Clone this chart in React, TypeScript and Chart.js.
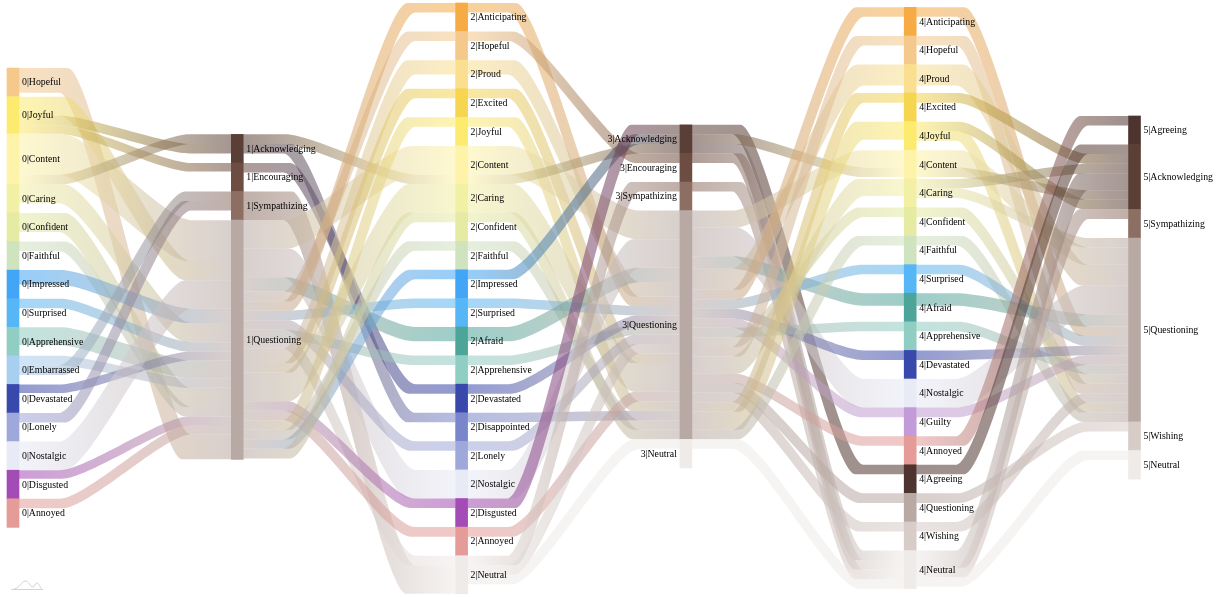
import React, { useEffect, useRef } from "react";
import { Chart, registerables } from "chart.js";

Chart.register(...registerables);

type Flow = [string, string, number];

// Node order in every step of the conversation
const column0 = ["Hopeful", "Joyful", "Content", "Caring", "Confident", "Faithful", "Impressed", "Surprised", "Apprehensive", "Embarrassed", "Devastated", "Lonely", "Nostalgic", "Disgusted", "Annoyed"];
const column1 = ["Acknowledging", "Encouraging", "Sympathizing", "Questioning"];
const column2 = ["Anticipating", "Hopeful", "Proud", "Excited", "Joyful", "Content", "Caring", "Confident", "Faithful", "Impressed", "Surprised", "Afraid", "Apprehensive", "Devastated", "Disappointed", "Lonely", "Nostalgic", "Disgusted", "Annoyed", "Neutral"];
const column3 = ["Acknowledging", "Encouraging", "Sympathizing", "Questioning", "Neutral"];
const column4 = ["Anticipating", "Hopeful", "Proud", "Excited", "Joyful", "Content", "Caring", "Confident", "Faithful", "Surprised", "Afraid", "Apprehensive", "Devastated", "Nostalgic", "Guilty", "Annoyed", "Agreeing", "Questioning", "Wishing", "Neutral"];
const column5 = ["Agreeing", "Acknowledging", "Sympathizing", "Questioning", "Wishing", "Neutral"];

// Flows, listed in the order they leave their source
const flows01: Flow[] = [
  ["Hopeful", "Questioning", 2.6], ["Joyful", "Questioning", 2], ["Joyful", "Acknowledging", 1], ["Joyful", "Encouraging", 0.9],
  ["Content", "Questioning", 4.3], ["Content", "Acknowledging", 1], ["Caring", "Questioning", 2], ["Confident", "Questioning", 2],
  ["Faithful", "Questioning", 1], ["Impressed", "Questioning", 1.5], ["Surprised", "Questioning", 1], ["Apprehensive", "Questioning", 1.9],
  ["Embarrassed", "Questioning", 1], ["Embarrassed", "Sympathizing", 1], ["Devastated", "Questioning", 0.9], ["Lonely", "Sympathizing", 1],
  ["Nostalgic", "Questioning", 3], ["Disgusted", "Questioning", 0.9], ["Annoyed", "Questioning", 1],
];
const flows12: Flow[] = [
  ["Acknowledging", "Content", 1], ["Acknowledging", "Disappointed", 1], ["Encouraging", "Devastated", 1], ["Sympathizing", "Neutral", 3],
  ["Questioning", "Content", 3], ["Questioning", "Nostalgic", 3], ["Questioning", "Afraid", 1.5], ["Questioning", "Hopeful", 1],
  ["Questioning", "Anticipating", 1], ["Questioning", "Surprised", 1], ["Questioning", "Lonely", 1], ["Questioning", "Apprehensive", 1],
  ["Questioning", "Neutral", 1], ["Questioning", "Proud", 1.5], ["Questioning", "Excited", 1], ["Questioning", "Caring", 3],
  ["Questioning", "Disgusted", 1], ["Questioning", "Annoyed", 1], ["Questioning", "Joyful", 1], ["Questioning", "Faithful", 1],
  ["Questioning", "Impressed", 1], ["Questioning", "Confident", 1],
];
const flows23: Flow[] = [
  ["Anticipating", "Questioning", 1], ["Hopeful", "Encouraging", 1], ["Proud", "Questioning", 1.5], ["Excited", "Questioning", 1],
  ["Joyful", "Questioning", 1], ["Content", "Questioning", 3], ["Content", "Acknowledging", 1], ["Caring", "Questioning", 3],
  ["Confident", "Questioning", 1], ["Faithful", "Questioning", 1], ["Impressed", "Acknowledging", 1], ["Surprised", "Questioning", 1],
  ["Afraid", "Questioning", 1.5], ["Apprehensive", "Questioning", 1], ["Devastated", "Questioning", 1], ["Disappointed", "Questioning", 1],
  ["Lonely", "Questioning", 1], ["Nostalgic", "Questioning", 3], ["Disgusted", "Acknowledging", 1], ["Annoyed", "Questioning", 1],
  ["Neutral", "Sympathizing", 1], ["Neutral", "Questioning", 1], ["Neutral", "Neutral", 1],
];
const flows34: Flow[] = [
  ["Acknowledging", "Agreeing", 1], ["Acknowledging", "Content", 1], ["Acknowledging", "Neutral", 1], ["Encouraging", "Neutral", 1], ["Sympathizing", "Neutral", 1],
  ["Questioning", "Content", 1.8], ["Questioning", "Nostalgic", 3], ["Questioning", "Afraid", 1.3], ["Questioning", "Proud", 2.2],
  ["Questioning", "Anticipating", 1], ["Questioning", "Surprised", 1], ["Questioning", "Devastated", 1], ["Questioning", "Guilty", 1],
  ["Questioning", "Apprehensive", 1], ["Questioning", "Confident", 1], ["Questioning", "Hopeful", 1], ["Questioning", "Caring", 1.8],
  ["Questioning", "Annoyed", 1], ["Questioning", "Questioning", 1], ["Questioning", "Wishing", 1], ["Questioning", "Excited", 1],
  ["Questioning", "Joyful", 1.9], ["Questioning", "Faithful", 1], ["Neutral", "Neutral", 1],
];
const flows45: Flow[] = [
  ["Anticipating", "Questioning", 1], ["Hopeful", "Questioning", 1], ["Proud", "Questioning", 2.2], ["Excited", "Acknowledging", 1],
  ["Joyful", "Acknowledging", 1], ["Joyful", "Questioning", 1], ["Content", "Questioning", 1.8], ["Content", "Acknowledging", 1],
  ["Caring", "Acknowledging", 1], ["Caring", "Questioning", 1], ["Confident", "Questioning", 1], ["Faithful", "Questioning", 1],
  ["Surprised", "Questioning", 1], ["Afraid", "Questioning", 1.3], ["Apprehensive", "Questioning", 1], ["Devastated", "Questioning", 1],
  ["Nostalgic", "Questioning", 3], ["Guilty", "Questioning", 1], ["Annoyed", "Agreeing", 1], ["Agreeing", "Acknowledging", 1],
  ["Questioning", "Wishing", 1], ["Wishing", "Questioning", 1], ["Neutral", "Acknowledging", 1.8], ["Neutral", "Sympathizing", 1], ["Neutral", "Neutral", 1],
];

// Order in which the flows arrive at a node, by source name
const arrive1 = ["Content", "Joyful", "Nostalgic", "Impressed", "Caring", "Surprised", "Devastated", "Apprehensive", "Embarrassed", "Lonely", "Confident", "Faithful", "Disgusted", "Annoyed", "Hopeful"];
const arrive2 = ["Questioning", "Acknowledging", "Encouraging", "Sympathizing"];
const arrive3 = ["Disgusted", "Impressed", "Content", "Nostalgic", "Afraid", "Proud", "Anticipating", "Surprised", "Devastated", "Apprehensive", "Lonely", "Neutral", "Excited", "Caring", "Annoyed", "Joyful", "Disappointed", "Faithful", "Confident"];
const arrive4 = ["Questioning", "Acknowledging", "Encouraging", "Sympathizing", "Neutral"];
const arrive5 = ["Annoyed", "Agreeing", "Excited", "Caring", "Neutral", "Content", "Proud", "Nostalgic", "Afraid", "Anticipating", "Surprised", "Devastated", "Guilty", "Apprehensive", "Confident", "Hopeful", "Wishing", "Questioning", "Joyful", "Faithful"];

const nodeColors: Record<string, string> = {
  Hopeful: "#F5C98B", Joyful: "#FDEB6F", Content: "#FEF3A8", Caring: "#F2F0A5", Confident: "#E5EBA2", Faithful: "#D0E3BF",
  Impressed: "#42A5F5", Surprised: "#57B6F5", Apprehensive: "#90CDC3", Embarrassed: "#A8CFF0", Devastated: "#3949AB", Lonely: "#9FA8DA",
  Nostalgic: "#E8EAF6", Disgusted: "#A44CB5", Annoyed: "#E59C98", Anticipating: "#F7AB44", Proud: "#FADF90", Excited: "#F6D651",
  Afraid: "#4DA59A", Disappointed: "#7986CB", Neutral: "#EFEBE9", Acknowledging: "#5A3F37", Encouraging: "#6D4C41", Sympathizing: "#8D6E63",
  Questioning: "#B9A9A4", Agreeing: "#4E342E", Wishing: "#D7CCC8", Guilty: "#C39BD8",
};

const columns = [column0, column1, column2, column3, column4, column5];
const flowSets = [flows01, flows12, flows23, flows34, flows45];
const arrivals = [arrive1, arrive2, arrive3, arrive4, arrive5];

// Layout settings (axis units, pixels)
const columnTops = [7.14, 14.1, 0.31, 13.1, 0.77, 12.17];
const MIN_NODE = 3;
const NODE_W = 12;
const FLAT = 0.19;
const BEND = 0.2;
const SPREAD = 1.25;
const LINK_ALPHA = 0.55;

const alpha = (hex: string, a: number) => {
  const n = parseInt(hex.slice(1), 16);
  return `rgba(${n >> 16},${(n >> 8) & 255},${n & 255},${a})`;
};

type NodeBox = { col: number; name: string; top: number; bottom: number };

function buildLayout() {
  const totalIn = (c: number, name: string) => (c > 0 ? flowSets[c - 1].filter((f) => f[1] === name).reduce((s, f) => s + f[2], 0) : 0);
  const totalOut = (c: number, name: string) => (c < flowSets.length ? flowSets[c].filter((f) => f[0] === name).reduce((s, f) => s + f[2], 0) : 0);
  const nodes: NodeBox[] = [];
  const index: Record<string, NodeBox> = {};
  columns.forEach((names, c) => {
    let y = columnTops[c];
    names.forEach((name) => {
      const h = Math.max(MIN_NODE, totalIn(c, name), totalOut(c, name));
      const box = { col: c, name, top: y, bottom: y + h };
      nodes.push(box);
      index[`${c}|${name}`] = box;
      y += h;
    });
  });
  const ribbons: { col: number; from: string; to: string; y0: number; y1: number; size: number }[] = [];
  flowSets.forEach((flows, c) => {
    const outUsed: Record<string, number> = {};
    const withOut = flows.map((f) => {
      const used = outUsed[f[0]] || 0;
      outUsed[f[0]] = used + f[2];
      return { f, y0: index[`${c}|${f[0]}`].top + used };
    });
    const order = arrivals[c];
    const sorted = [...withOut].sort((a, b) => order.indexOf(a.f[0]) - order.indexOf(b.f[0]));
    const inUsed: Record<string, number> = {};
    const y1s = new Map<Flow, number>();
    sorted.forEach(({ f }) => {
      const used = inUsed[f[1]] || 0;
      inUsed[f[1]] = used + f[2];
      y1s.set(f, index[`${c + 1}|${f[1]}`].top + used);
    });
    withOut.forEach(({ f, y0 }) => ribbons.push({ col: c, from: f[0], to: f[1], y0, y1: y1s.get(f) as number, size: f[2] }));
  });
  return { nodes, ribbons };
}

export default function App() {
  const ref = useRef<HTMLCanvasElement>(null);
  useEffect(() => {
    if (!ref.current) return;
    const { nodes, ribbons } = buildLayout();

    const ribbonPlugin = {
      id: "ribbons",
      beforeDatasetsDraw(chart: any) {
        const { ctx, scales } = chart;
        const unit = Math.abs(scales.y.getPixelForValue(1) - scales.y.getPixelForValue(0));
        ctx.save();
        ribbons.forEach((r) => {
          const x0 = scales.x.getPixelForValue(r.col) + NODE_W / 2;
          const x1 = scales.x.getPixelForValue(r.col + 1) - NODE_W / 2;
          const w = x1 - x0;
          const a = x0 + w * FLAT;
          const b = x1 - w * FLAT;
          const k = (b - a) * BEND;
          const py = (v: number) => scales.y.getPixelForValue(v);
          const t0 = py(r.y0), t1 = py(r.y1), b0 = py(r.y0 + r.size), b1 = py(r.y1 + r.size);
          // the outer edge of each bend runs wider than the inner edge
          const theta = Math.atan(Math.abs(t1 - t0) / (b - a));
          const d = unit * Math.tan(theta / 2) * SPREAD;
          const down = t1 >= t0;
          const topA = down ? a + d : a;
          const topB = down ? b : b - d;
          const botA = down ? a : a + d;
          const botB = down ? b - d : b;
          const g = ctx.createLinearGradient(x0, 0, x1, 0);
          g.addColorStop(0, alpha(nodeColors[r.from], LINK_ALPHA));
          g.addColorStop(1, alpha(nodeColors[r.to], LINK_ALPHA));
          ctx.fillStyle = g;
          ctx.beginPath();
          ctx.moveTo(x0, t0);
          ctx.lineTo(topA, t0);
          ctx.bezierCurveTo(topA + k, t0, topB - k, t1, topB, t1);
          ctx.lineTo(x1, t1);
          ctx.lineTo(x1, b1);
          ctx.lineTo(botB, b1);
          ctx.bezierCurveTo(botB - k, b1, botA + k, b0, botA, b0);
          ctx.lineTo(x0, b0);
          ctx.closePath();
          ctx.fill();
        });
        ctx.restore();
      },
      afterDatasetsDraw(chart: any) {
        const { ctx, scales } = chart;
        ctx.save();
        ctx.font = '9.8px "Liberation Serif"';
        ctx.textBaseline = "middle";
        ctx.fillStyle = "#000";
        nodes.forEach((n) => {
          const cx = scales.x.getPixelForValue(n.col);
          const y = scales.y.getPixelForValue((n.top + n.bottom) / 2) + 0.5;
          const left = n.col === 3;
          ctx.textAlign = left ? "right" : "left";
          ctx.fillText(`${n.col}|${n.name}`, cx + (left ? -NODE_W / 2 - 3 : NODE_W / 2 + 3), y);
        });
        // faint logo mark in the bottom-left corner
        ctx.strokeStyle = "#c9c9c9";
        ctx.lineWidth = 0.8;
        ctx.beginPath();
        ctx.moveTo(11, 589.5);
        ctx.lineTo(43, 589.5);
        ctx.moveTo(14, 589);
        ctx.bezierCurveTo(20, 588, 22, 581, 25, 581);
        ctx.bezierCurveTo(29, 581, 30, 587, 33, 587);
        ctx.bezierCurveTo(35, 587, 35, 583, 37, 583);
        ctx.bezierCurveTo(39, 583, 40, 588, 42, 589);
        ctx.stroke();
        ctx.restore();
      },
    };

    const chart = new Chart(ref.current, {
      type: "bar",
      data: {
        datasets: [
          {
            data: nodes.map((n) => ({ x: n.col, y: [n.top, n.bottom] })) as any,
            backgroundColor: nodes.map((n) => nodeColors[n.name]),
            barThickness: NODE_W,
            borderWidth: 0,
            borderSkipped: false,
          } as any,
        ],
      },
      options: {
        animation: false,
        responsive: false,
        maintainAspectRatio: false,
        layout: { padding: 0 },
        plugins: { legend: { display: false }, tooltip: { enabled: false } },
        scales: {
          x: { type: "linear", display: false, offset: false, min: -13 / 224.3, max: (1222 - 13) / 224.3, grid: { display: false } },
          y: { type: "linear", display: false, reverse: true, min: 0, max: 597 / 9.53, grid: { display: false } },
        },
      },
      plugins: [ribbonPlugin],
    } as any);
    return () => chart.destroy();
  }, []);

  return (
    <div style={{ position: "fixed", left: 0, top: 0, width: 1222, height: 597, background: "#fff" }}>
      <canvas ref={ref} width={1222} height={597} style={{ display: "block" }} />
    </div>
  );
}
